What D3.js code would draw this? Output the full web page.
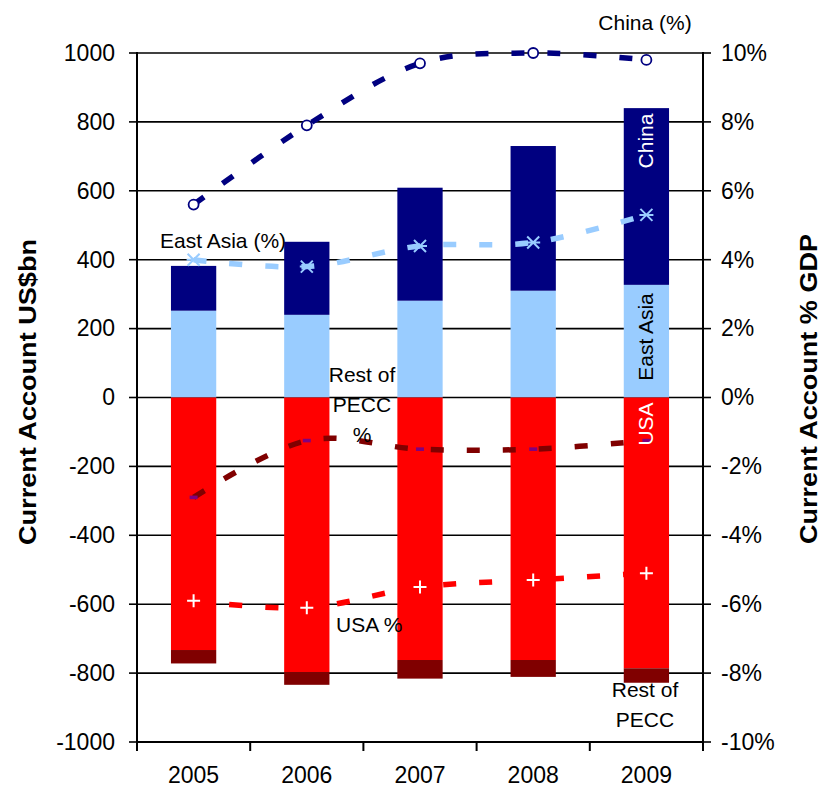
<!DOCTYPE html>
<html>
<head>
<meta charset="utf-8">
<script src="https://cdn.jsdelivr.net/npm/d3@7"></script>
<style>
  html, body { margin: 0; padding: 0; background: #fff; }
  svg { display: block; font-family: "Liberation Sans", Arial, sans-serif; }
</style>
</head>
<body>
<svg id="chart" width="821" height="789"></svg>
<script>
// Current account balances, US$bn (stacked bars)
const years = ["2005", "2006", "2007", "2008", "2009"];
const eastAsia = [252, 240, 281, 310, 327];
const china = [130, 212, 328, 420, 513];
const usa = [-733, -797, -762, -762, -786];
const restPECC = [-39, -37, -54, -49, -42];

// Current account, % of GDP (lines on right axis)
const chinaPct = [5.6, 7.9, 9.7, 10.0, 9.8];
const eastAsiaPct = [4.0, 3.8, 4.4, 4.5, 5.3];
const restPECCPct = [-2.9, -1.25, -1.5, -1.5, -1.25];
const usaPct = [-5.9, -6.1, -5.5, -5.3, -5.1];

// Tick labels
const leftTicks = [-1000, -800, -600, -400, -200, 0, 200, 400, 600, 800, 1000];
const rightTicks = [-10, -8, -6, -4, -2, 0, 2, 4, 6, 8, 10];

const svg = d3.select("#chart");
const L = 137, R = 703, T = 53, B = 742;

const x = d3.scaleBand().domain(years).range([L, R]).paddingInner(0.6).paddingOuter(0.3);
const xc = d => x(d) + x.bandwidth() / 2;
const y = d3.scaleLinear().domain([-1000, 1000]).range([B, T]);
const y2 = d3.scaleLinear().domain([-10, 10]).range([B, T]);

// horizontal gridlines
svg.append("g").selectAll("line").data(leftTicks).join("line")
  .attr("x1", L).attr("x2", R)
  .attr("y1", d => y(d)).attr("y2", d => y(d))
  .attr("stroke", "#000").attr("stroke-width", 1.6);

// stacked bars
const rows = years.map((yr, i) => ({ year: yr, eastAsia: eastAsia[i], china: china[i], usa: usa[i], restPECC: restPECC[i] }));
const keys = ["eastAsia", "china", "usa", "restPECC"];
const colors = { eastAsia: "#99CCFF", china: "#000080", usa: "#FF0000", restPECC: "#800000" };
const stacked = d3.stack().keys(keys).offset(d3.stackOffsetDiverging)(rows);

svg.append("g").selectAll("g").data(stacked).join("g")
  .attr("fill", s => colors[s.key])
  .selectAll("rect").data(s => s).join("rect")
  .attr("x", d => x(d.data.year))
  .attr("width", x.bandwidth())
  .attr("y", d => y(Math.max(d[0], d[1])))
  .attr("height", d => Math.abs(y(d[0]) - y(d[1])));

// axes
const axisG = svg.append("g").attr("stroke", "#000").attr("stroke-width", 2);
axisG.append("line").attr("x1", L).attr("x2", L).attr("y1", T - 1).attr("y2", B + 1);
axisG.append("line").attr("x1", R).attr("x2", R).attr("y1", T - 1).attr("y2", B + 1);
axisG.append("line").attr("x1", L).attr("x2", R).attr("y1", B).attr("y2", B);
axisG.selectAll(".lt").data(leftTicks).join("line").attr("class", "lt")
  .attr("x1", L - 8).attr("x2", L).attr("y1", d => y(d)).attr("y2", d => y(d)).attr("stroke-width", 1.6);
axisG.selectAll(".rt").data(rightTicks).join("line").attr("class", "rt")
  .attr("x1", R).attr("x2", R + 8).attr("y1", d => y2(d)).attr("y2", d => y2(d)).attr("stroke-width", 1.6);
const bounds = years.map(d => x(d) - x.step() * x.paddingInner() / 2).concat([R]);
axisG.selectAll(".bt").data(bounds).join("line").attr("class", "bt")
  .attr("x1", d => d).attr("x2", d => d).attr("y1", B).attr("y2", B + 9);

// tick labels
svg.append("g").selectAll("text").data(leftTicks).join("text")
  .attr("x", 115).attr("y", d => y(d)).attr("dy", "0.34em")
  .attr("text-anchor", "end").attr("font-size", 23).text(d => d);
svg.append("g").selectAll("text").data(rightTicks).join("text")
  .attr("x", 721).attr("y", d => y2(d)).attr("dy", "0.34em")
  .attr("text-anchor", "start").attr("font-size", 23).text(d => d + "%");
svg.append("g").selectAll("text").data(years).join("text")
  .attr("x", d => xc(d)).attr("y", 783)
  .attr("text-anchor", "middle").attr("font-size", 23).text(d => d);

// axis titles
svg.append("text").attr("transform", "translate(36,392) rotate(-90)")
  .attr("text-anchor", "middle").attr("font-size", 23).attr("font-weight", "bold")
  .attr("textLength", 306).attr("lengthAdjust", "spacingAndGlyphs")
  .text("Current Account US$bn");
svg.append("text").attr("transform", "translate(817,389) rotate(-90)")
  .attr("text-anchor", "middle").attr("font-size", 23).attr("font-weight", "bold")
  .attr("textLength", 310).attr("lengthAdjust", "spacingAndGlyphs")
  .text("Current Account % GDP");

// % of GDP lines
const line = d3.line().x((d, i) => xc(years[i])).y(d => y2(d)).curve(d3.curveCardinal.tension(0));
const series = [
  { vals: chinaPct, color: "#000080" },
  { vals: eastAsiaPct, color: "#99CCFF" },
  { vals: restPECCPct, color: "#800000" },
  { vals: usaPct, color: "#FF0000" }
];
svg.append("g").selectAll("path").data(series).join("path")
  .attr("d", s => line(s.vals))
  .attr("fill", "none").attr("stroke", s => s.color)
  .attr("stroke-width", 5.5).attr("stroke-dasharray", "13 23");

// markers
svg.append("g").selectAll("circle").data(chinaPct).join("circle")
  .attr("cx", (d, i) => xc(years[i])).attr("cy", d => y2(d)).attr("r", 5)
  .attr("fill", "#fff").attr("stroke", "#000080").attr("stroke-width", 1.8);

const star = svg.append("g").attr("stroke", "#99CCFF").attr("stroke-width", 2);
eastAsiaPct.forEach((v, i) => {
  const cx = xc(years[i]), cy = y2(v), s = 6;
  star.append("path").attr("d", `M${cx - s},${cy - s}L${cx + s},${cy + s}M${cx - s},${cy + s}L${cx + s},${cy - s}M${cx - s - 1},${cy}L${cx + s + 1},${cy}`);
});

svg.append("g").selectAll("rect").data(restPECCPct).join("rect")
  .attr("x", (d, i) => xc(years[i]) - 4).attr("y", d => y2(d) - 1.8)
  .attr("width", 8).attr("height", 3.6).attr("fill", "#800080");

const plus = svg.append("g").attr("stroke", "#fff").attr("stroke-width", 2);
usaPct.forEach((v, i) => {
  const cx = xc(years[i]), cy = y2(v), s = 6.5;
  plus.append("path").attr("d", `M${cx - s},${cy}L${cx + s},${cy}M${cx},${cy - s}L${cx},${cy + s}`);
});

// series labels
const lab = svg.append("g").attr("font-size", 21).attr("fill", "#000");
lab.append("text").attr("x", 645).attr("y", 30).attr("text-anchor", "middle").text("China (%)");
lab.append("text").attr("x", 160).attr("y", 248).text("East Asia (%)");
lab.append("text").attr("x", 336).attr("y", 632).text("USA %");
[["Rest of", 382], ["PECC", 412], ["%", 442]].forEach(([t, yy]) =>
  lab.append("text").attr("x", 362).attr("y", yy).attr("text-anchor", "middle").text(t));
[["Rest of", 697], ["PECC", 727]].forEach(([t, yy]) =>
  lab.append("text").attr("x", 645).attr("y", yy).attr("text-anchor", "middle").text(t));

// in-bar labels on the last column
const lastX = xc(years[4]) + 7;
lab.append("text").attr("transform", `translate(${lastX},141) rotate(-90)`)
  .attr("text-anchor", "middle").attr("fill", "#fff").text("China");
lab.append("text").attr("transform", `translate(${lastX},337) rotate(-90)`)
  .attr("text-anchor", "middle").attr("fill", "#000").text("East Asia");
lab.append("text").attr("transform", `translate(${lastX},424) rotate(-90)`)
  .attr("text-anchor", "middle").attr("fill", "#fff").text("USA");
</script>
</body>
</html>
